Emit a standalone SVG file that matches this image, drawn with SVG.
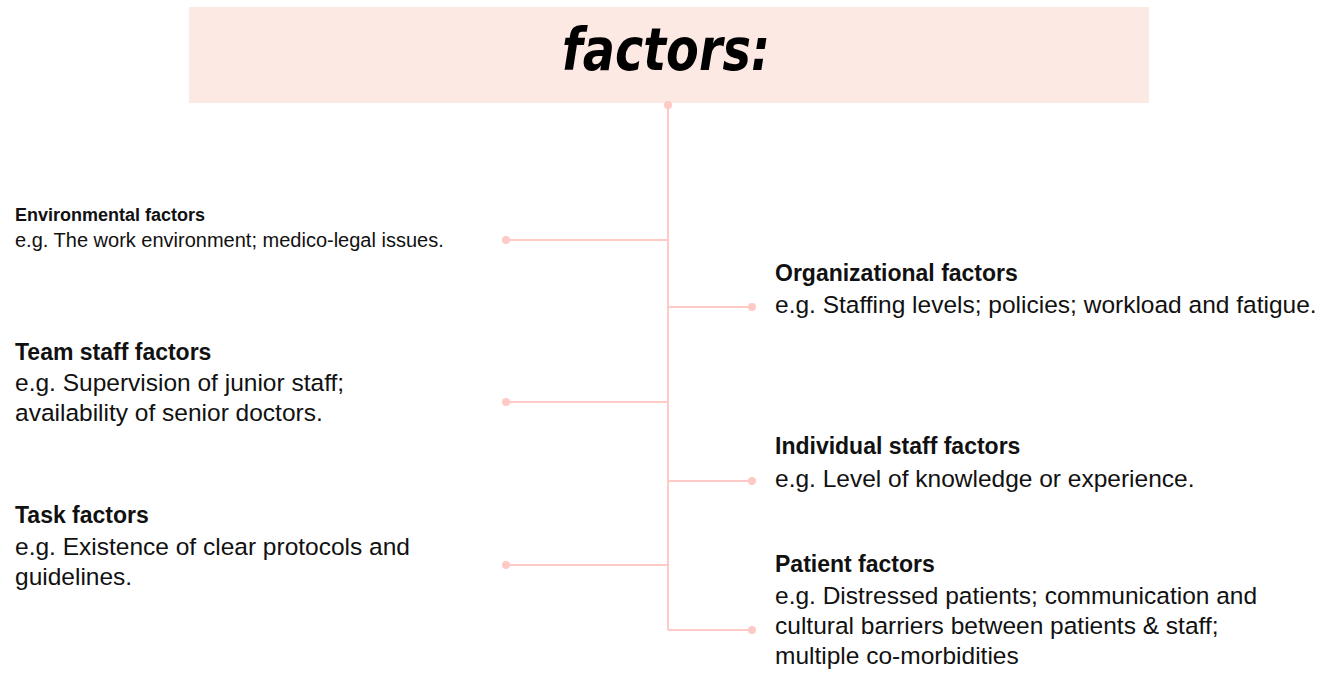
<svg xmlns="http://www.w3.org/2000/svg" width="1338" height="675" viewBox="0 0 1338 675">
  <style>
    .hd { font-family: "Liberation Sans", Arial, sans-serif; font-weight: bold; fill: #111; }
    .bd { font-family: "Liberation Sans", Arial, sans-serif; fill: #111; }
    .lg { font-size: 23px; }
    .lb { font-size: 24.5px; }
    .sm { font-size: 18px; }
    .sb { font-size: 20px; }
    .ln { stroke: #ffc9c5; stroke-width: 2; fill: none; }
    .dt { fill: #ffc9c5; }
  </style>
  <rect width="1338" height="675" fill="#ffffff"/>

  <g id="title">
    <rect x="189" y="7" width="960" height="96" fill="#fde9e4"/>
    <text x="562" y="70" textLength="208" lengthAdjust="spacingAndGlyphs" font-family="'DejaVu Sans', sans-serif" font-weight="bold" font-style="italic" font-size="58" fill="#000">factors:</text>
  </g>

  <g id="connectors">
    <path class="ln" d="M668 105 V630"/>
    <circle class="dt" cx="668" cy="105" r="4"/>
    <path class="ln" d="M506 240 H668"/>
    <circle class="dt" cx="506" cy="240" r="4"/>
    <path class="ln" d="M668 307 H752"/>
    <circle class="dt" cx="752" cy="307" r="4"/>
    <path class="ln" d="M506 402 H668"/>
    <circle class="dt" cx="506" cy="402" r="4"/>
    <path class="ln" d="M668 481 H752"/>
    <circle class="dt" cx="752" cy="481" r="4"/>
    <path class="ln" d="M506 565 H668"/>
    <circle class="dt" cx="506" cy="565" r="4"/>
    <path class="ln" d="M668 630 H752"/>
    <circle class="dt" cx="752" cy="630" r="4"/>
  </g>

  <g id="environmental">
    <text class="hd sm" x="15" y="221">Environmental factors</text>
    <text class="bd sb" x="15" y="247">e.g. The work environment; medico-legal issues.</text>
  </g>

  <g id="organizational">
    <text class="hd lg" x="775" y="281">Organizational factors</text>
    <text class="bd lb" x="775" y="313">e.g. Staffing levels; policies; workload and fatigue.</text>
  </g>

  <g id="team-staff">
    <text class="hd lg" x="15" y="360">Team staff factors</text>
    <text class="bd lb" x="15" y="391">e.g. Supervision of junior staff;</text>
    <text class="bd lb" x="15" y="421">availability of senior doctors.</text>
  </g>

  <g id="individual-staff">
    <text class="hd lg" x="775" y="454">Individual staff factors</text>
    <text class="bd lb" x="775" y="487">e.g. Level of knowledge or experience.</text>
  </g>

  <g id="task">
    <text class="hd lg" x="15" y="523">Task factors</text>
    <text class="bd lb" x="15" y="555">e.g. Existence of clear protocols and</text>
    <text class="bd lb" x="15" y="585">guidelines.</text>
  </g>

  <g id="patient">
    <text class="hd lg" x="775" y="572">Patient factors</text>
    <text class="bd lb" x="775" y="604">e.g. Distressed patients; communication and</text>
    <text class="bd lb" x="775" y="634">cultural barriers between patients &amp; staff;</text>
    <text class="bd lb" x="775" y="664">multiple co-morbidities</text>
  </g>
</svg>
